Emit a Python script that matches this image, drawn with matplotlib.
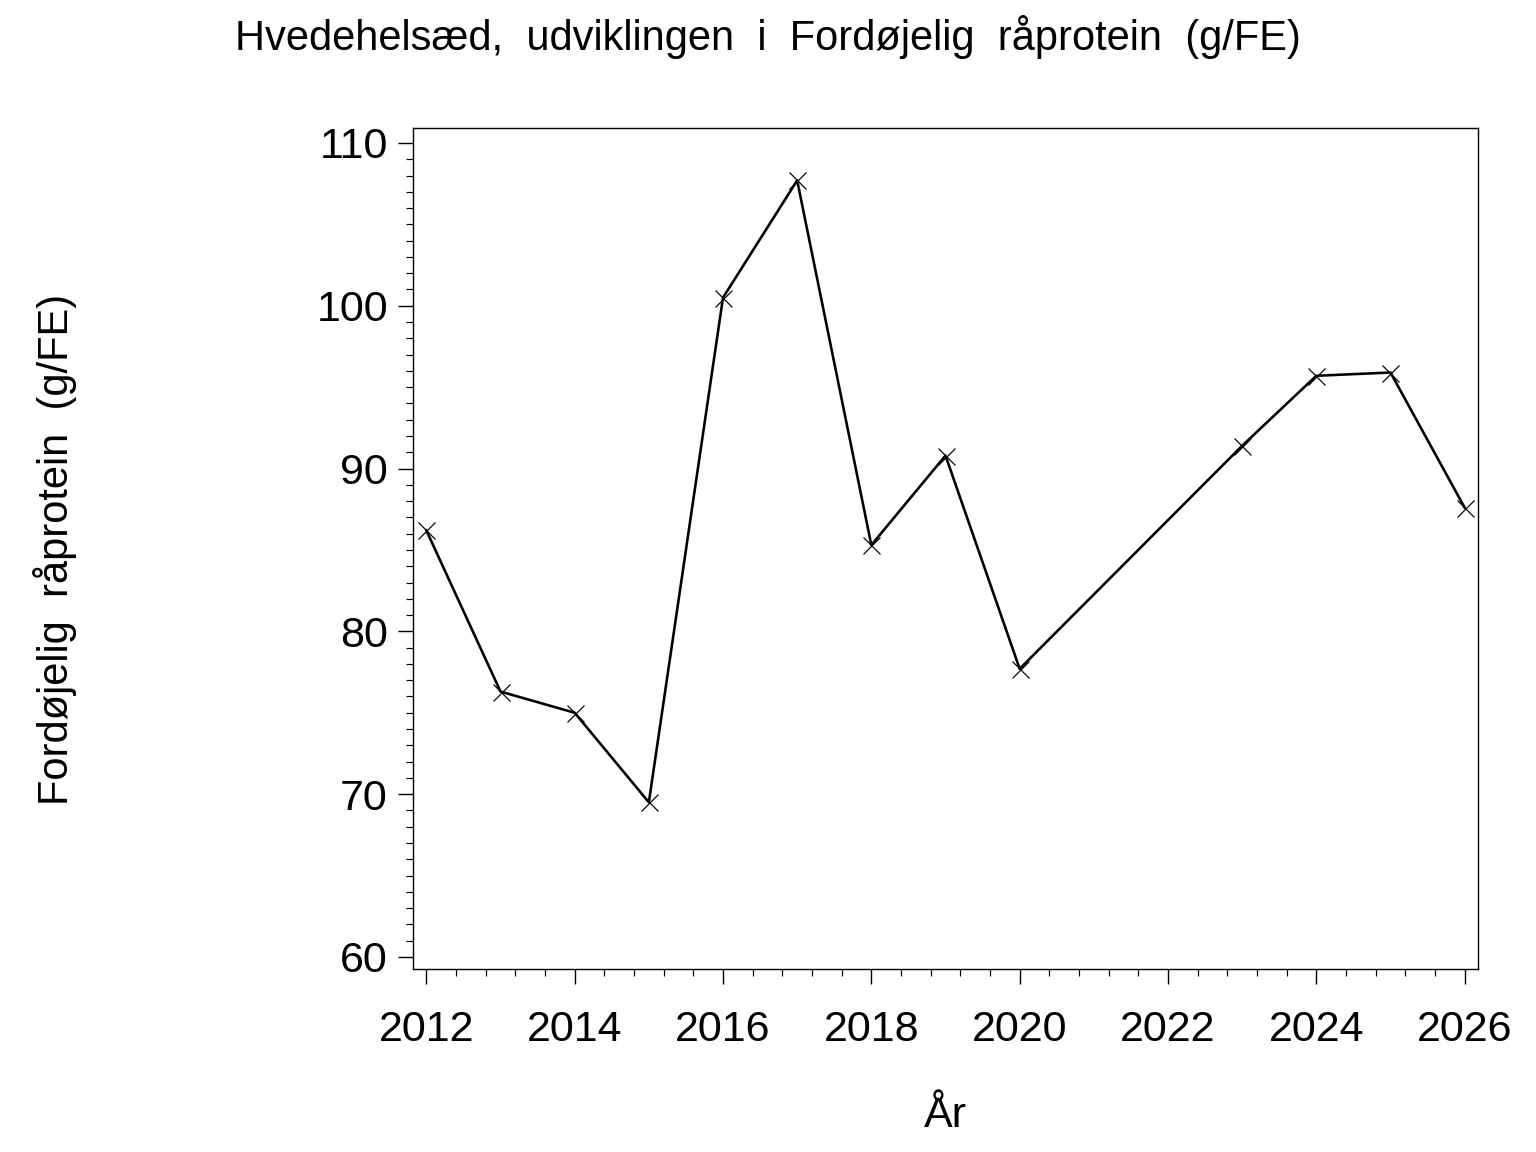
import matplotlib
matplotlib.use("Agg")
import matplotlib.pyplot as plt
from matplotlib.ticker import MultipleLocator

years = [2012, 2013, 2014, 2015, 2016, 2017, 2018, 2019, 2020, 2023, 2024, 2025, 2026]
values = [86.2, 76.3, 75.0, 69.5, 100.5, 107.7, 85.3, 90.8, 77.7, 91.4, 95.7, 95.9, 87.6]

TITLE = "Hvedehelsæd,  udviklingen  i  Fordøjelig  råprotein  (g/FE)"
YLABEL = "Fordøjelig  råprotein  (g/FE)"
XLABEL = "År"

W, H = 1536, 1152
PX = 72 / 100  # points per pixel at dpi 100

plt.rcParams["font.family"] = ["Liberation Sans", "DejaVu Sans"]

fig = plt.figure(figsize=(W / 100, H / 100), dpi=100)
ax = fig.add_axes([413 / W, 1 - 969 / H, (1478 - 413) / W, (969 - 128) / H])

ax.plot(years, values, color="black", lw=2.6 * PX, marker="x", ms=17 * PX,
        mew=1.2 * PX, mec="black")

ax.set_xlim(2011.82, 2026.18)
ax.set_ylim(59.26, 110.92)
ax.xaxis.set_major_locator(MultipleLocator(2))
ax.xaxis.set_minor_locator(MultipleLocator(0.4))
ax.yaxis.set_major_locator(MultipleLocator(10))
ax.yaxis.set_minor_locator(MultipleLocator(1))
ax.tick_params(which="major", length=15 * PX, width=1.4 * PX, labelsize=31)
ax.tick_params(which="minor", length=7 * PX, width=1.2 * PX)
ax.tick_params(axis="x", which="major", pad=26 * PX)
ax.tick_params(axis="y", which="major", pad=10 * PX)
for sp in ax.spines.values():
    sp.set_linewidth(1.4 * PX)

fig.text(0.5, 1 - 50 / H, TITLE, fontsize=30, ha="center", va="baseline")
fig.text(945 / W, 1 - 1127 / H, XLABEL, fontsize=31, ha="center", va="baseline")
fig.text(68 / W, 1 - 549 / H, YLABEL, fontsize=30, rotation=90,
         rotation_mode="anchor", ha="center", va="baseline")

fig.savefig("out.png", dpi=100, facecolor="white")
